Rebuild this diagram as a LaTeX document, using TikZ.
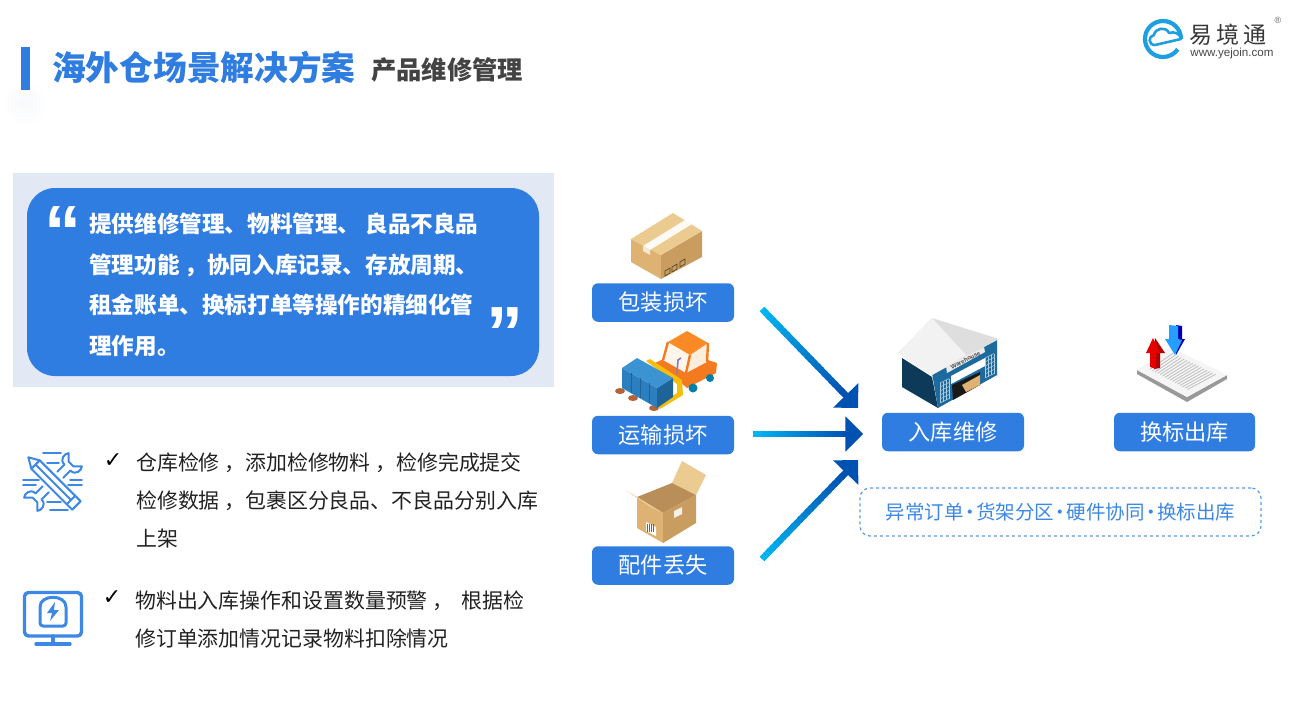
\documentclass[tikz,border=0pt]{standalone}
\usepackage{fontspec}
\setmainfont{Noto Sans CJK SC}
\newfontfamily\latinfont{Liberation Sans}
\newfontfamily\checkfont{DejaVu Sans}
\usepackage{tikz}
\usetikzlibrary{arrows,calc}

\definecolor{mainblue}{HTML}{2F7DE1}
\definecolor{panelblue}{HTML}{E2E8F4}
\definecolor{darktext}{HTML}{222222}
\definecolor{arrowcyan}{HTML}{00B6F2}
\definecolor{arrowblue}{HTML}{0052B2}
\definecolor{iconblue}{HTML}{3D88E4}
\definecolor{logoblue}{HTML}{1E9FE2}
\definecolor{cardtop}{HTML}{EBCB90}
\definecolor{cardleft}{HTML}{DDB273}
\definecolor{cardright}{HTML}{C99C5F}
\definecolor{cardin}{HTML}{B98E58}
\definecolor{liftorange}{HTML}{F47A20}
\definecolor{liftroof}{HTML}{FA8A26}
\definecolor{liftyellow}{HTML}{F5BE0B}
\definecolor{crateside}{HTML}{2B7FBF}
\definecolor{cratedark}{HTML}{1F6499}
\definecolor{cratetop}{HTML}{3C93D2}
\definecolor{palletbrown}{HTML}{B5643A}
\definecolor{wallnavy}{HTML}{0E3A5A}
\definecolor{wallfront}{HTML}{1D6A9F}

\tikzset{
    stagebox/.style={fill=mainblue,rounded corners=6pt,text=white,minimum width=142pt,
        minimum height=38.5pt,inner sep=0pt,font=\fontsize{22.2}{24}\selectfont},
    bodytext/.style={anchor=west,align=left,inner sep=0pt,text=darktext,
        font=\fontsize{20.9}{38}\selectfont},
    checkmark/.style={inner sep=0pt,text=black,font=\checkfont\fontsize{22}{22}\selectfont},
    iconline/.style={draw=iconblue,line width=2pt,line cap=round,line join=round},
    quotemark/.style={inner sep=0pt,text=white,font=\latinfont\bfseries\fontsize{74}{74}\selectfont},
}

\newcommand{\gradarrow}[2]{
        \foreach \i in {0,...,23} {
            \pgfmathsetmacro{\mixval}{100-\i*100/23}
            \pgfmathsetmacro{\ta}{\i/24*0.86}
            \pgfmathsetmacro{\tb}{(\i+1.4)/24*0.86}
            \draw[line width=6.5pt,color=arrowcyan!\mixval!arrowblue] ($(#1)!\ta!(#2)$) -- ($(#1)!\tb!(#2)$);
        }
        \draw[line width=5.4pt,color=arrowblue,-triangle 90] ($(#1)!0.84!(#2)$) -- (#2);
}

\begin{document}
\begin{tikzpicture}[x=1pt,y=-1pt]
        \useasboundingbox (0,0) rectangle (1309,728);
        \fill[white] (0,0) rectangle (1309,728);

        % header
        \shade[inner color=panelblue!25,outer color=white,draw=none] (25,103) circle (24);
        \fill[mainblue] (21,47) rectangle (29.5,90);
        \node[anchor=west,inner sep=0pt,text=mainblue,font=\fontsize{33.7}{36}\selectfont\bfseries] (maintitle) at (52,67) {海外仓场景解决方案};
        \node[anchor=west,inner sep=0pt,text=darktext!85,font=\fontsize{25.3}{28}\selectfont\bfseries] (subtitle) at (371,70) {产品维修管理};

        % logo
        \draw[logoblue,line width=4.2pt] (1181,39) arc (0:-325:18);
        \draw[logoblue,line width=2.6pt,line cap=round,line join=round,fill=white]
            (1181,39) -- (1155,45) .. controls (1148,45) and (1148,36) .. (1154,35)
            .. controls (1155,28) and (1166,26) .. (1169,33) .. controls (1174,31) and (1181,34) .. (1181,39);
        \node[inner sep=0pt,text=black!78,font=\fontsize{23}{24}\selectfont] (logoname) at (1228,35) {易\hspace{4pt}境\hspace{4pt}通};
        \node[inner sep=0pt,text=black!72,font=\latinfont\fontsize{11.6}{12}\selectfont] (logourl) at (1232,53.5) {www.yejoin.com};
        \node[inner sep=0pt,text=black!60,font=\latinfont\fontsize{9}{9}\selectfont] (logomark) at (1278,20) {®};

        % quote panel
        \fill[panelblue] (13,173) rectangle (554,387);
        \fill[mainblue,rounded corners=28pt] (27,188) rectangle (539,376);
        \node[quotemark] (quoteopen) at (63,232) {“};
        \node[quotemark] (quoteclose) at (505,333) {”};
        \node[anchor=west,align=left,inner sep=0pt,text=white,font=\fontsize{22.6}{40.7}\selectfont\bfseries] (quotetext) at (89,285)
            {提供维修管理、物料管理、 良品不良品\\管理功能 ，协同入库记录、存放周期、\\租金账单、换标打单等操作的精细化管\\理作用。};

        % bullet texts
        \node[checkmark] (checkone) at (113,461) {✓};
        \node[bodytext] (bulletone) at (136,500.5) {仓库检修 ，添加检修物料 ，检修完成提交\\检修数据 ，包裹区分良品、不良品分别入库\\上架};
        \node[checkmark] (checktwo) at (112,598) {✓};
        \node[bodytext] (bullettwo) at (135,619) {物料出入库操作和设置数量预警 ，\hspace{8pt}根据检\\修订单添加情况记录物料扣除情况};

        % tools icon
        \begin{scope}[shift={(53,482)},rotate=45,scale=0.85]
            \draw[iconline] (-24,-5) -- (-12,-5) (12,-5) -- (24,-5) (-24,5) -- (-12,5) (12,5) -- (24,5);
            \draw[iconline] (24,-5) .. controls (24,-14) and (34,-14) .. (37,-11) -- (30,-4) -- (30,4) -- (37,11) .. controls (34,14) and (24,14) .. (24,5);
            \draw[iconline] (-24,-5) .. controls (-24,-14) and (-34,-14) .. (-37,-11) -- (-30,-4) -- (-30,4) -- (-37,11) .. controls (-34,14) and (-24,14) .. (-24,5);
        \end{scope}
        \begin{scope}[shift={(53,482)},rotate=-45,scale=0.85]
            \draw[iconline,fill=white] (-41,0) -- (-29,-7) -- (39,-7) -- (39,7) -- (-29,7) -- cycle;
            \draw[iconline] (-29,0) -- (30,0) (30,-7) -- (30,7) (-29,-7) -- (-29,7);
        \end{scope}
        \foreach \lx/\ly/\ll in {43/453/18,47/463/12,23/480/16,23/485/13,70/480/12,68/485/14,47/502/14,50/510/18} {
            \draw[iconline,line width=1.6pt] (\lx,\ly) -- ++(\ll,0);
        }

        % monitor icon
        \draw[iconline,line width=3.4pt,rounded corners=4pt] (24.5,592.5) rectangle (81.5,636);
        \draw[iconline,line width=3.4pt] (53,636) -- (53,644) (36,644) -- (70,644);
        \draw[iconline,line width=3pt,rounded corners=3pt] (40,626) -- (40,610) .. controls (40,594) and (66,594) .. (66,610) -- (66,626) -- cycle;
        \fill[iconblue] (55,602) -- (47,613) -- (52,613) -- (50,621) -- (59,610) -- (54,610) -- cycle;

        % package picture
        \fill[cardleft] (631,239) -- (661,255) -- (661,279) -- (631,262) -- cycle;
        \fill[cardright] (661,255) -- (702,231) -- (702,257) -- (661,279) -- cycle;
        \fill[cardtop] (631,239) -- (673,213) -- (702,231) -- (661,255) -- cycle;
        \fill[white!90!cardtop] (643,246) -- (685,220) -- (692,224) -- (650,250) -- cycle;
        \fill[white!70!cardleft] (643,246) -- (650,250) -- (650,255) -- (643,251) -- cycle;
        \foreach \mx/\my in {665/271,672/267,680/262} {
            \draw[black!55!cardright,line width=0.7pt] (\mx,\my) -- ++(5,-3) -- ++(0,5) -- ++(-5,3) -- cycle;
        }

        % forklift picture
        \foreach \px/\py in {620/391,633/398,654/408} {
            \fill[palletbrown] (\px,\py) ellipse (5 and 3);
        }
        \fill[liftorange] (655,363) -- (668,357) -- (690,370) -- (708,360) -- (717,363) -- (716,373) -- (687,388) -- (680,382) -- cycle;
        \fill[orange!8!white] (668,342) -- (690,355) -- (686,373) -- (663,360) -- cycle;
        \fill[orange!14!white] (690,355) -- (708,343) -- (707,362) -- (686,373) -- cycle;
        \draw[liftorange,line width=2.4pt,line join=round] (668,342) -- (663,360) (690,355) -- (686,373) (708,343) -- (707,362);
        \fill[liftroof] (668,342) -- (687,331) -- (708,343) -- (690,355) -- cycle;
        \fill[black!70!blue!50!cyan] (693,388) circle (4.5) (710,378) circle (4);
        \draw[black!45!blue!50!white,line width=1.6pt] (677,374) -- (678,360) -- (681,358);
        \fill[liftyellow] (646,361) -- (650,359) -- (682,380) -- (683,395) -- (660,409) -- (657,405) -- (677,393) -- (677,384) -- cycle;
        \fill[crateside] (622,368) -- (657,388) -- (657,408) -- (622,388) -- cycle;
        \fill[cratedark] (657,388) -- (673,378) -- (673,397) -- (657,408) -- cycle;
        \fill[cratetop] (622,368) -- (637,358) -- (673,378) -- (657,388) -- cycle;
        \foreach \sx/\sy in {631/373,640/378,649/383} {
            \draw[cratedark,line width=0.7pt] (\sx,\sy) -- ++(0,20);
        }

        % open box picture
        \fill[cardtop] (682,461) -- (706,475) -- (696,495) -- (672,483) -- cycle;
        \fill[cardin] (637,497) -- (672,483) -- (696,495) -- (663,513) -- cycle;
        \fill[cardleft] (637,497) -- (663,513) -- (663,543) -- (637,528) -- cycle;
        \fill[cardright] (663,513) -- (696,495) -- (696,523) -- (663,543) -- cycle;
        \fill[cardtop] (627,491) -- (637,497) -- (663,513) -- (650,507) -- cycle;
        \fill[white!85!cardright] (674,511) -- (682,507) -- (682,514) -- (674,518) -- cycle;
        \fill[white] (646,522) -- (656,527) -- (656,536) -- (646,531) -- cycle;
        \foreach \bx in {647.5,649.5,651.5,653.5} {
            \draw[black!60,line width=0.5pt] (\bx,524) -- (\bx,532);
        }

        % warehouse picture
        \fill[wallnavy] (902,358) -- (932,377) -- (938,408) -- (902,387) -- cycle;
        \fill[wallfront] (932,373) -- (997,340) -- (997,375) -- (938,408) -- cycle;
        \fill[black!13] (932,318) -- (898,353) -- (932,375) -- (999,339) -- cycle;
        \fill[black!5] (932,318) -- (898,353) -- (932,375) -- (966,355) -- cycle;
        \fill[black!90] (952,385) -- (980,372) -- (980,385) -- (953,400) -- cycle;
        \fill[cardleft] (962,385) -- (980,375) -- (980,385) -- (966,392) -- cycle;
        \fill[white] (951,376) -- (985,358) -- (985,366) -- (951,384) -- cycle;
        \fill[black!8] (946,366) -- (984,347) -- (985,352) -- (947,373) -- cycle;
        \node[rotate=27,inner sep=0pt,text=black!70,font=\latinfont\bfseries\fontsize{6}{6}\selectfont] (wharesign) at (965.5,360) {Warehouse};
        \foreach \gx/\gy in {940/383,985/358} {
            \foreach \gs in {0,3,6,9} {
                \draw[white!65!wallfront,line width=0.5pt] (\gx+\gs,\gy-\gs/2) -- ++(0,20);
            }
            \foreach \gs in {0,4,...,20} {
                \draw[white!65!wallfront,line width=0.5pt] (\gx,\gy+\gs) -- ++(9,-4.5);
            }
        }

        % barcode picture
        \coordinate (sheetL) at (1137,370);
        \coordinate (sheetT) at (1170,347);
        \coordinate (sheetR) at (1227,375);
        \coordinate (sheetB) at (1187,397);
        \fill[black!40] (sheetL) -- (sheetB) -- (sheetR) -- ++(0,4) -- ($(sheetB)+(0,5)$) -- ($(sheetL)+(0,4)$) -- cycle;
        \fill[black!4] (sheetL) -- (sheetT) -- (sheetR) -- (sheetB) -- cycle;
        \foreach \t in {0.12,0.17,...,0.9} {
            \draw[black!25,line width=0.8pt] ($(sheetL)!\t!(sheetB)+(7,-4)$) -- ($(sheetT)!\t!(sheetR)+(-4,3)$);
        }
        \fill[red!70!black] (1155,338) -- (1165,353) -- (1160,353) -- (1160,368) -- (1154,369) -- (1154,350) -- cycle;
        \fill[red!90!black] (1153,338) -- (1146,353) -- (1150,353) -- (1150,367) -- (1156,369) -- (1156,353) -- (1160,353) -- cycle;
        \fill[blue!70!black] (1176,325) -- (1182,326) -- (1182,339) -- (1185,339) -- (1176,355) -- cycle;
        \fill[blue!45!cyan!85!white] (1169,325) -- (1178,326) -- (1178,339) -- (1182,340) -- (1175,355) -- (1165,339) -- (1169,339) -- cycle;

        % stages
        \node[stagebox] (pack) at (663,302.5) {包装损坏};
        \node[stagebox] (ship) at (663,435) {运输损坏};
        \node[stagebox] (parts) at (663,565.5) {配件丢失};
        \node[stagebox] (repair) at (953,432) {入库维修};
        \node[stagebox,minimum width=141pt] (relabel) at (1184.5,432) {换标出库};
        \node[draw=iconblue!85,dashed,line width=1.2pt,rounded corners=10pt,minimum width=401pt,minimum height=48pt,inner sep=0pt,
            text=iconblue,font=\fontsize{19.5}{21}\selectfont] (services) at (1060.5,512)
            {异常订单\hspace{-3.5pt}·\hspace{-3.5pt}货架分区\hspace{-3.5pt}·\hspace{-3.5pt}硬件协同\hspace{-3.5pt}·\hspace{-3.5pt}换标出库};

        % arrows
        \coordinate (packstart) at (762,309);
        \coordinate (packend) at (858,408);
        \coordinate (shipstart) at (753,434);
        \coordinate (shipend) at (863,434);
        \coordinate (partsstart) at (762,559);
        \coordinate (partsend) at (858,460);
        \gradarrow{packstart}{packend}
        \gradarrow{shipstart}{shipend}
        \gradarrow{partsstart}{partsend}
\end{tikzpicture}
\end{document}
